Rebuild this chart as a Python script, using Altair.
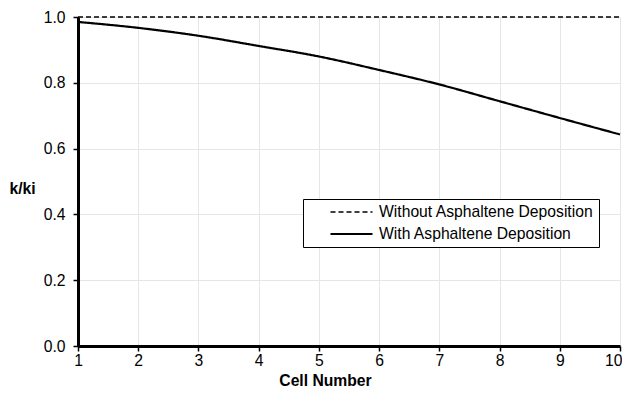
import altair as alt
import pandas as pd

cells = [1, 2, 3, 4, 5, 6, 7, 8, 9, 10]
without_dep = [1.0, 1.0, 1.0, 1.0, 1.0, 1.0, 1.0, 1.0, 1.0, 1.0]
with_dep = [0.985, 0.967, 0.943, 0.912, 0.880, 0.839, 0.795, 0.744, 0.693, 0.643]
series_names = ["Without Asphaltene Deposition", "With Asphaltene Deposition"]
y_ticks = [0.0, 0.2, 0.4, 0.6, 0.8, 1.0]

rows = []
for c, v in zip(cells, without_dep):
    rows.append({"cell": c, "k": v, "series": series_names[0]})
for c, v in zip(cells, with_dep):
    rows.append({"cell": c, "k": v, "series": series_names[1]})
df = pd.DataFrame(rows)

FONT = "Liberation Sans"
FS = 15.7

chart = alt.Chart(df).mark_line(interpolate="monotone", color="black").encode(
    x=alt.X("cell:Q",
            scale=alt.Scale(domain=[1, 10], nice=False, zero=False),
            axis=alt.Axis(values=cells, title="Cell Number", format="d",
                          labelFlush=False,
                          labelAlign={"condition": {"test": "datum.value == 10", "value": "right"},
                                      "value": "center"},
                          labelOffset={"condition": {"test": "datum.value == 10", "value": 2},
                                       "value": 0},
                          titleX=247, titleY=34, titleBaseline="middle",
                          titleAlign="center", labelPadding=2)),
    y=alt.Y("k:Q",
            scale=alt.Scale(domain=[0, 1], nice=False),
            axis=alt.Axis(values=y_ticks, format=".1f", title="k/ki",
                          titleAngle=0, titleX=-56, titleY=171,
                          titleAlign="center", titleBaseline="middle",
                          labelPadding=8)),
    strokeDash=alt.StrokeDash("series:N",
                              scale=alt.Scale(domain=series_names, range=[[5, 3], [1, 0]]),
                              legend=alt.Legend(title=None, orient="none",
                                                legendX=225, legendY=182,
                                                symbolType="M-1,0H1M12.48,0",
                                                symbolSize=1764,
                                                symbolStrokeWidth=2, symbolStrokeColor="black",
                                                symbolFillColor="transparent",
                                                clipHeight=16, rowPadding=6, padding=5,
                                                symbolOffset=21, labelOffset=5,
                                                strokeColor="black", fillColor="white",
                                                labelFont=FONT, labelFontSize=FS,
                                                labelColor="black", labelLimit=400)),
    strokeWidth=alt.StrokeWidth("series:N",
                                scale=alt.Scale(domain=series_names, range=[1.6, 2.2]),
                                legend=None),
).properties(
    width=542, height=329,
    autosize=alt.AutoSizeParams(type="none"),
    padding={"left": 70, "top": 9, "right": 2, "bottom": 42},
).configure_view(stroke=None).configure_axis(
    labelFont=FONT, labelFontSize=FS, labelColor="black",
    titleFont=FONT, titleFontSize=FS, titleFontWeight="bold", titleColor="black",
    domainColor="black", domainWidth=3,
    tickColor="black", tickSize=5, tickWidth=1.5,
    gridColor="#e6e6e6", gridWidth=1,
)

chart.save("out.html", embed_options={"renderer": "svg", "actions": False})
